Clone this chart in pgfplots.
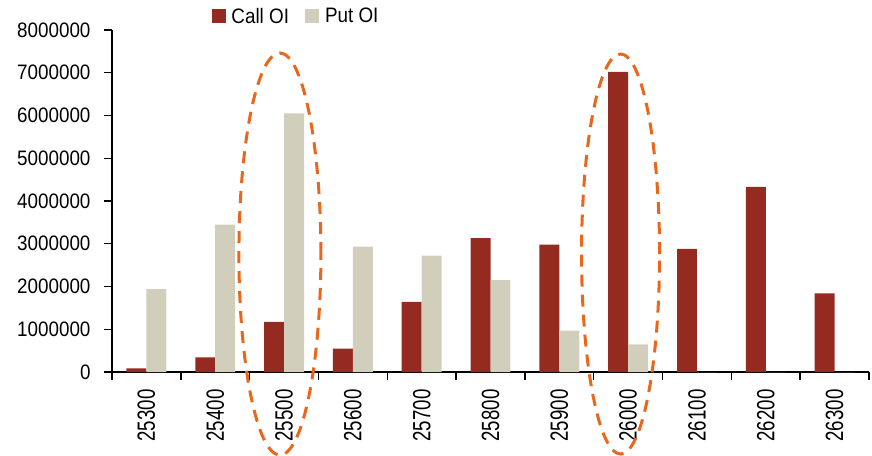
\documentclass[border=0pt]{standalone}
\usepackage{fontspec}
\setmainfont{Liberation Sans}[FakeStretch=0.9]
\newfontfamily\xfont{Liberation Sans}[FakeStretch=0.75]
\usepackage{pgfplots}
\pgfplotsset{compat=1.18}
\definecolor{callc}{HTML}{952A20}
\definecolor{putc}{HTML}{D1CFBC}
\definecolor{ellc}{HTML}{E8671C}
\begin{document}
\begin{tikzpicture}
\path[use as bounding box] (-112bp,-84bp) rectangle (760bp,372bp);
\begin{axis}[
  scale only axis,
  width=757bp, height=342bp,
  at={(0,0)}, anchor=south west,
  xmin=-0.5, xmax=10.5,
  ymin=0, ymax=8000000,
  scaled y ticks=false,
  axis x line*=bottom, axis y line*=left,
  axis line style={line width=1.6bp, black},
  clip=false,
  ybar=0pt, bar width=0.29,
  xtick={0,...,10},
  xticklabels={25300,25400,25500,25600,25700,25800,25900,26000,26100,26200,26300},
  major x tick style={draw=none},
  minor xtick={-0.5,0.5,...,10.5},
  minor tick length=8bp,
  minor x tick style={line width=1.4bp, black},
  xticklabel style={rotate=90, anchor=east, font=\xfont\fontsize{25}{28}\selectfont},
  ytick={0,1000000,2000000,3000000,4000000,5000000,6000000,7000000,8000000},
  yticklabels={0,1000000,2000000,3000000,4000000,5000000,6000000,7000000,8000000},
  major tick length=8bp,
  tick align=outside,
  major y tick style={line width=1.4bp, black},
  yticklabel style={font=\fontsize{21}{24}\selectfont},
  xticklabel shift=6bp,
  yticklabel shift=10bp,
  legend style={at={(0.243,1.04)}, anchor=center, draw=none, fill=none,
    legend columns=2, font=\fontsize{21}{24}\selectfont,
    /tikz/every even column/.append style={column sep=14bp}},
  legend image code/.code={\fill[#1] (0bp,-7bp) rectangle (14bp,7bp);},
]
\addplot[fill=callc, draw=none, bar shift=-0.145] coordinates {
(0,85000) (1,345000) (2,1170000) (3,545000) (4,1640000) (5,3130000)
(6,2980000) (7,7020000) (8,2880000) (9,4330000) (10,1840000)};
\addplot[fill=putc, draw=none, bar shift=0.145] coordinates {
(0,1940000) (1,3450000) (2,6050000) (3,2930000) (4,2720000) (5,2150000)
(6,966000) (7,648000) (8,0) (9,0) (10,0)};
\legend{\hspace{4bp}Call OI, \hspace{4bp}Put OI}
\draw[ellc, line width=3bp, dash pattern=on 12bp off 8bp] (axis cs:1.94,2760000) ellipse [x radius=41bp, y radius=201bp];
\draw[ellc, line width=3bp, dash pattern=on 12bp off 8bp] (axis cs:6.89,2760000) ellipse [x radius=39bp, y radius=200bp];
\end{axis}
\end{tikzpicture}
\end{document}
